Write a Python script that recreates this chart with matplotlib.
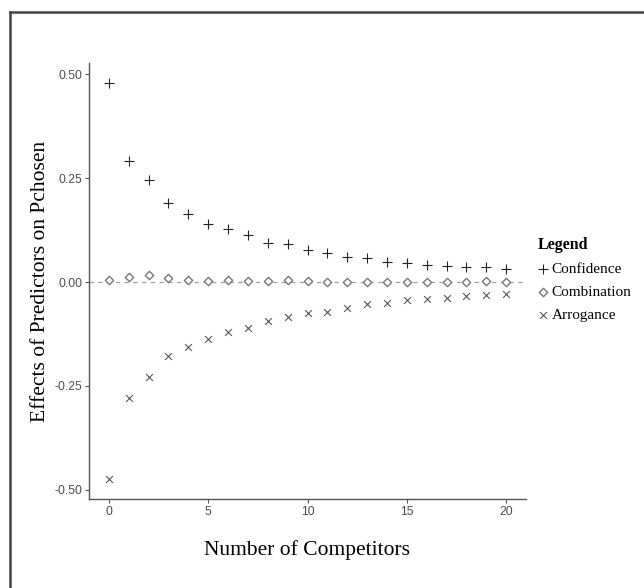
"""Effects of predictors on Pchosen vs number of competitors."""

import matplotlib

matplotlib.use("Agg")
import matplotlib.pyplot as plt
from matplotlib.lines import Line2D

competitors = list(range(21))
confidence = [0.480, 0.291, 0.245, 0.190, 0.163, 0.139, 0.127, 0.113, 0.095, 0.091,
              0.076, 0.070, 0.061, 0.057, 0.049, 0.046, 0.042, 0.038, 0.036, 0.035, 0.031]
combination = [0.004, 0.011, 0.016, 0.010, 0.006, 0.003, 0.006, 0.002, 0.002, 0.005,
               0.002, -0.001, 0.000, 0.001, 0.000, 0.001, 0.000, 0.001, 0.001, 0.002, 0.001]
arrogance = [-0.474, -0.278, -0.228, -0.179, -0.156, -0.136, -0.120, -0.111, -0.093, -0.084,
             -0.075, -0.071, -0.063, -0.054, -0.050, -0.043, -0.042, -0.038, -0.033, -0.030, -0.029]
yticks = [-0.50, -0.25, 0.00, 0.25, 0.50]
xticks = [0, 5, 10, 15, 20]

W, H = 644, 588
fig = plt.figure(figsize=(W / 100, H / 100), dpi=100)
ax = fig.add_axes([89 / W, 1 - 499 / H, (526 - 89) / W, (499 - 63) / H])

ax.axhline(0.0, color="#a0a0a0", lw=0.9, ls=(0, (3.5, 3.5)), zorder=1)
ax.scatter(competitors, confidence, marker="+", s=45, c="#222222", lw=0.8, label="Confidence", zorder=3)
ax.scatter(competitors, combination, marker="D", s=18, facecolors="white", edgecolors="#777777",
           lw=1.0, label="Combination", zorder=3)
ax.scatter(competitors, arrogance, marker="x", s=24, c="#555555", lw=0.8, label="Arrogance", zorder=3)

ax.set_xlim(-1, 21)
ax.set_ylim(-0.522, 0.527)
ax.set_xticks(xticks)
ax.set_yticks(yticks)
ax.set_yticklabels([f"{v:.2f}" for v in yticks])
for side in ("top", "right"):
    ax.spines[side].set_visible(False)
for side in ("left", "bottom"):
    ax.spines[side].set_color("#555555")
    ax.spines[side].set_linewidth(1.0)
ax.tick_params(length=3, width=0.8, color="#555555", labelcolor="#4d4d4d", labelsize=8.7,
               pad=2)
for lab in ax.get_xticklabels() + ax.get_yticklabels():
    lab.set_family("Liberation Sans")

ax.set_xlabel("Number of Competitors", family="Liberation Serif", fontsize=15.5, labelpad=16)
ax.set_ylabel("Effects of Predictors on Pchosen", family="Liberation Serif", fontsize=15.5,
              labelpad=3)

leg = ax.legend(loc="upper left", bbox_to_anchor=(538 / W, 1 - 237 / H),
                bbox_transform=fig.transFigure, frameon=False, title="Legend",
                alignment="left", prop={"family": "Liberation Serif", "size": 11},
                handlelength=0.6, handletextpad=0.3, labelspacing=0.6, borderpad=0,
                borderaxespad=0)
leg.get_title().set_fontproperties({"family": "Liberation Serif", "size": 11.5, "weight": "bold"})

# outer frame, clipped at the right and bottom edge of the image
fig.add_artist(Line2D([10 / W, 10 / W], [0, 1 - 12 / H], transform=fig.transFigure,
                      color="#444444", lw=1.8))
fig.add_artist(Line2D([10 / W, 1], [1 - 12 / H, 1 - 12 / H], transform=fig.transFigure,
                      color="#444444", lw=1.8))

fig.savefig("out.png", dpi=100)
